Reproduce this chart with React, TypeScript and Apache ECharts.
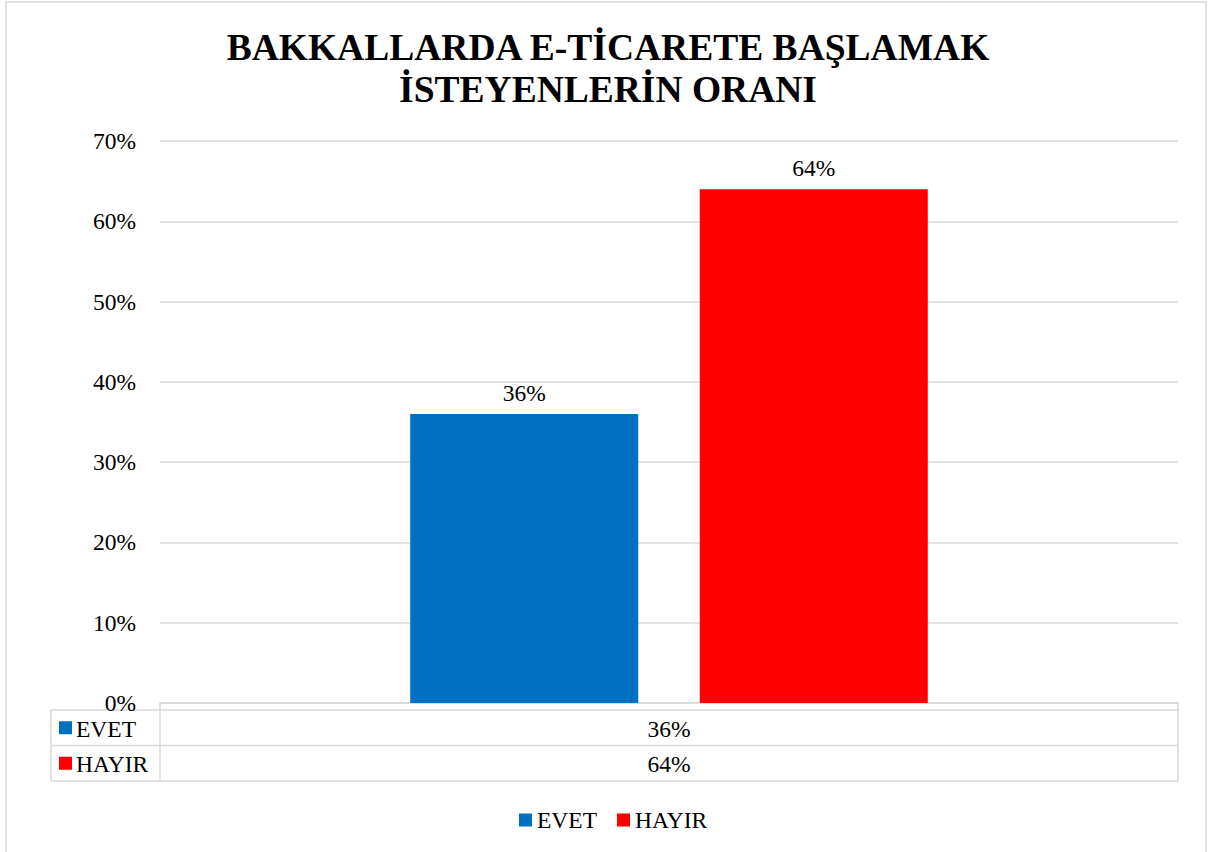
import React, { useEffect, useRef } from "react";
import * as echarts from "echarts";

const titleLines = ["BAKKALLARDA E-TİCARETE BAŞLAMAK", "İSTEYENLERİN ORANI"];
const categories = [""];
const seriesNames = ["EVET", "HAYIR"];
const seriesColors = ["#0070C0", "#FF0000"];
const evetValues = [36];
const hayirValues = [64];
const yTicks = { min: 0, max: 70, interval: 10 };

const FONT = "'Liberation Serif', 'Times New Roman', serif";
const FS = 23.5;

export default function App() {
  const ref = useRef<HTMLDivElement>(null);
  useEffect(() => {
    if (!ref.current) return;
    const chart = echarts.init(ref.current, undefined, { renderer: "svg" });
    const seriesValues = [evetValues, hayirValues];
    const gridL = 160, gridR = 1178, gridB = 703;
    const tableL = 51, rowTop = 710, rowH = 35.5;
    const lineColor = "#d9d9d9";
    const lineStyle = { stroke: lineColor, lineWidth: 1.5 };

    const graphics: any[] = [
      { type: "rect", shape: { x: 6, y: 2, width: 1200, height: 900 }, style: { fill: "none", stroke: lineColor, lineWidth: 1.5 }, silent: true },
      { type: "line", shape: { x1: gridL, y1: gridB, x2: gridL, y2: rowTop + rowH * 2 }, style: lineStyle },
      { type: "line", shape: { x1: gridR, y1: gridB, x2: gridR, y2: rowTop + rowH * 2 }, style: lineStyle },
      { type: "line", shape: { x1: tableL, y1: rowTop, x2: tableL, y2: rowTop + rowH * 2 }, style: lineStyle },
    ];
    for (let i = 0; i <= 2; i++) {
      graphics.push({ type: "line", shape: { x1: tableL, y1: rowTop + rowH * i, x2: gridR, y2: rowTop + rowH * i }, style: lineStyle });
    }
    seriesNames.forEach((name, i) => {
      const cy = rowTop + rowH * i + rowH / 2;
      graphics.push({ type: "rect", shape: { x: 59, y: cy - 6.5, width: 13, height: 13 }, style: { fill: seriesColors[i] } });
      graphics.push({ type: "text", x: 76, y: cy + 1, style: { text: name, font: `${FS}px ${FONT}`, fill: "#000", textVerticalAlign: "middle", textAlign: "left" } });
      categories.forEach((_, j) => {
        const cx = gridL + ((gridR - gridL) / categories.length) * (j + 0.5);
        graphics.push({ type: "text", x: cx, y: cy + 1, style: { text: seriesValues[i][j] + "%", font: `${FS}px ${FONT}`, fill: "#000", textVerticalAlign: "middle", textAlign: "center" } });
      });
    });

    chart.setOption({
      animation: false,
      backgroundColor: "#fff",
      title: {
        text: titleLines.join("\n"),
        left: 603,
        textAlign: "center",
        top: 21,
        textStyle: { fontFamily: FONT, fontWeight: "bold", fontSize: 37.5, lineHeight: 42, color: "#000" },
      },
      grid: { left: gridL, right: 1208 - gridR, top: 141, bottom: 852 - gridB, containLabel: false },
      legend: {
        data: seriesNames,
        left: 514,
        top: 803,
        itemWidth: 13,
        itemHeight: 13,
        itemGap: 20,
        icon: "rect",
        textStyle: { fontFamily: FONT, fontSize: FS, color: "#000" },
      },
      xAxis: {
        type: "category",
        data: categories,
        axisLine: { show: true, lineStyle: { color: lineColor, width: 1.5 } },
        axisTick: { show: false },
        axisLabel: { show: false },
      },
      yAxis: {
        type: "value",
        min: yTicks.min,
        max: yTicks.max,
        interval: yTicks.interval,
        axisLine: { show: false },
        axisTick: { show: false },
        axisLabel: { formatter: "{value}%", fontFamily: FONT, fontSize: FS, color: "#000", margin: 24 },
        splitLine: { lineStyle: { color: lineColor, width: 1.5 } },
      },
      series: seriesNames.map((name, i) => ({
        name,
        type: "bar",
        data: seriesValues[i],
        barWidth: 228,
        barGap: "27%",
        itemStyle: { color: seriesColors[i] },
        label: { show: true, position: "top", distance: 9, formatter: "{c}%", fontFamily: FONT, fontSize: FS, color: "#000" },
      })),
      graphic: graphics,
    });
    return () => chart.dispose();
  }, []);
  return <div ref={ref} style={{ position: "absolute", left: 0, top: 0, width: 1208, height: 852 }} />;
}
